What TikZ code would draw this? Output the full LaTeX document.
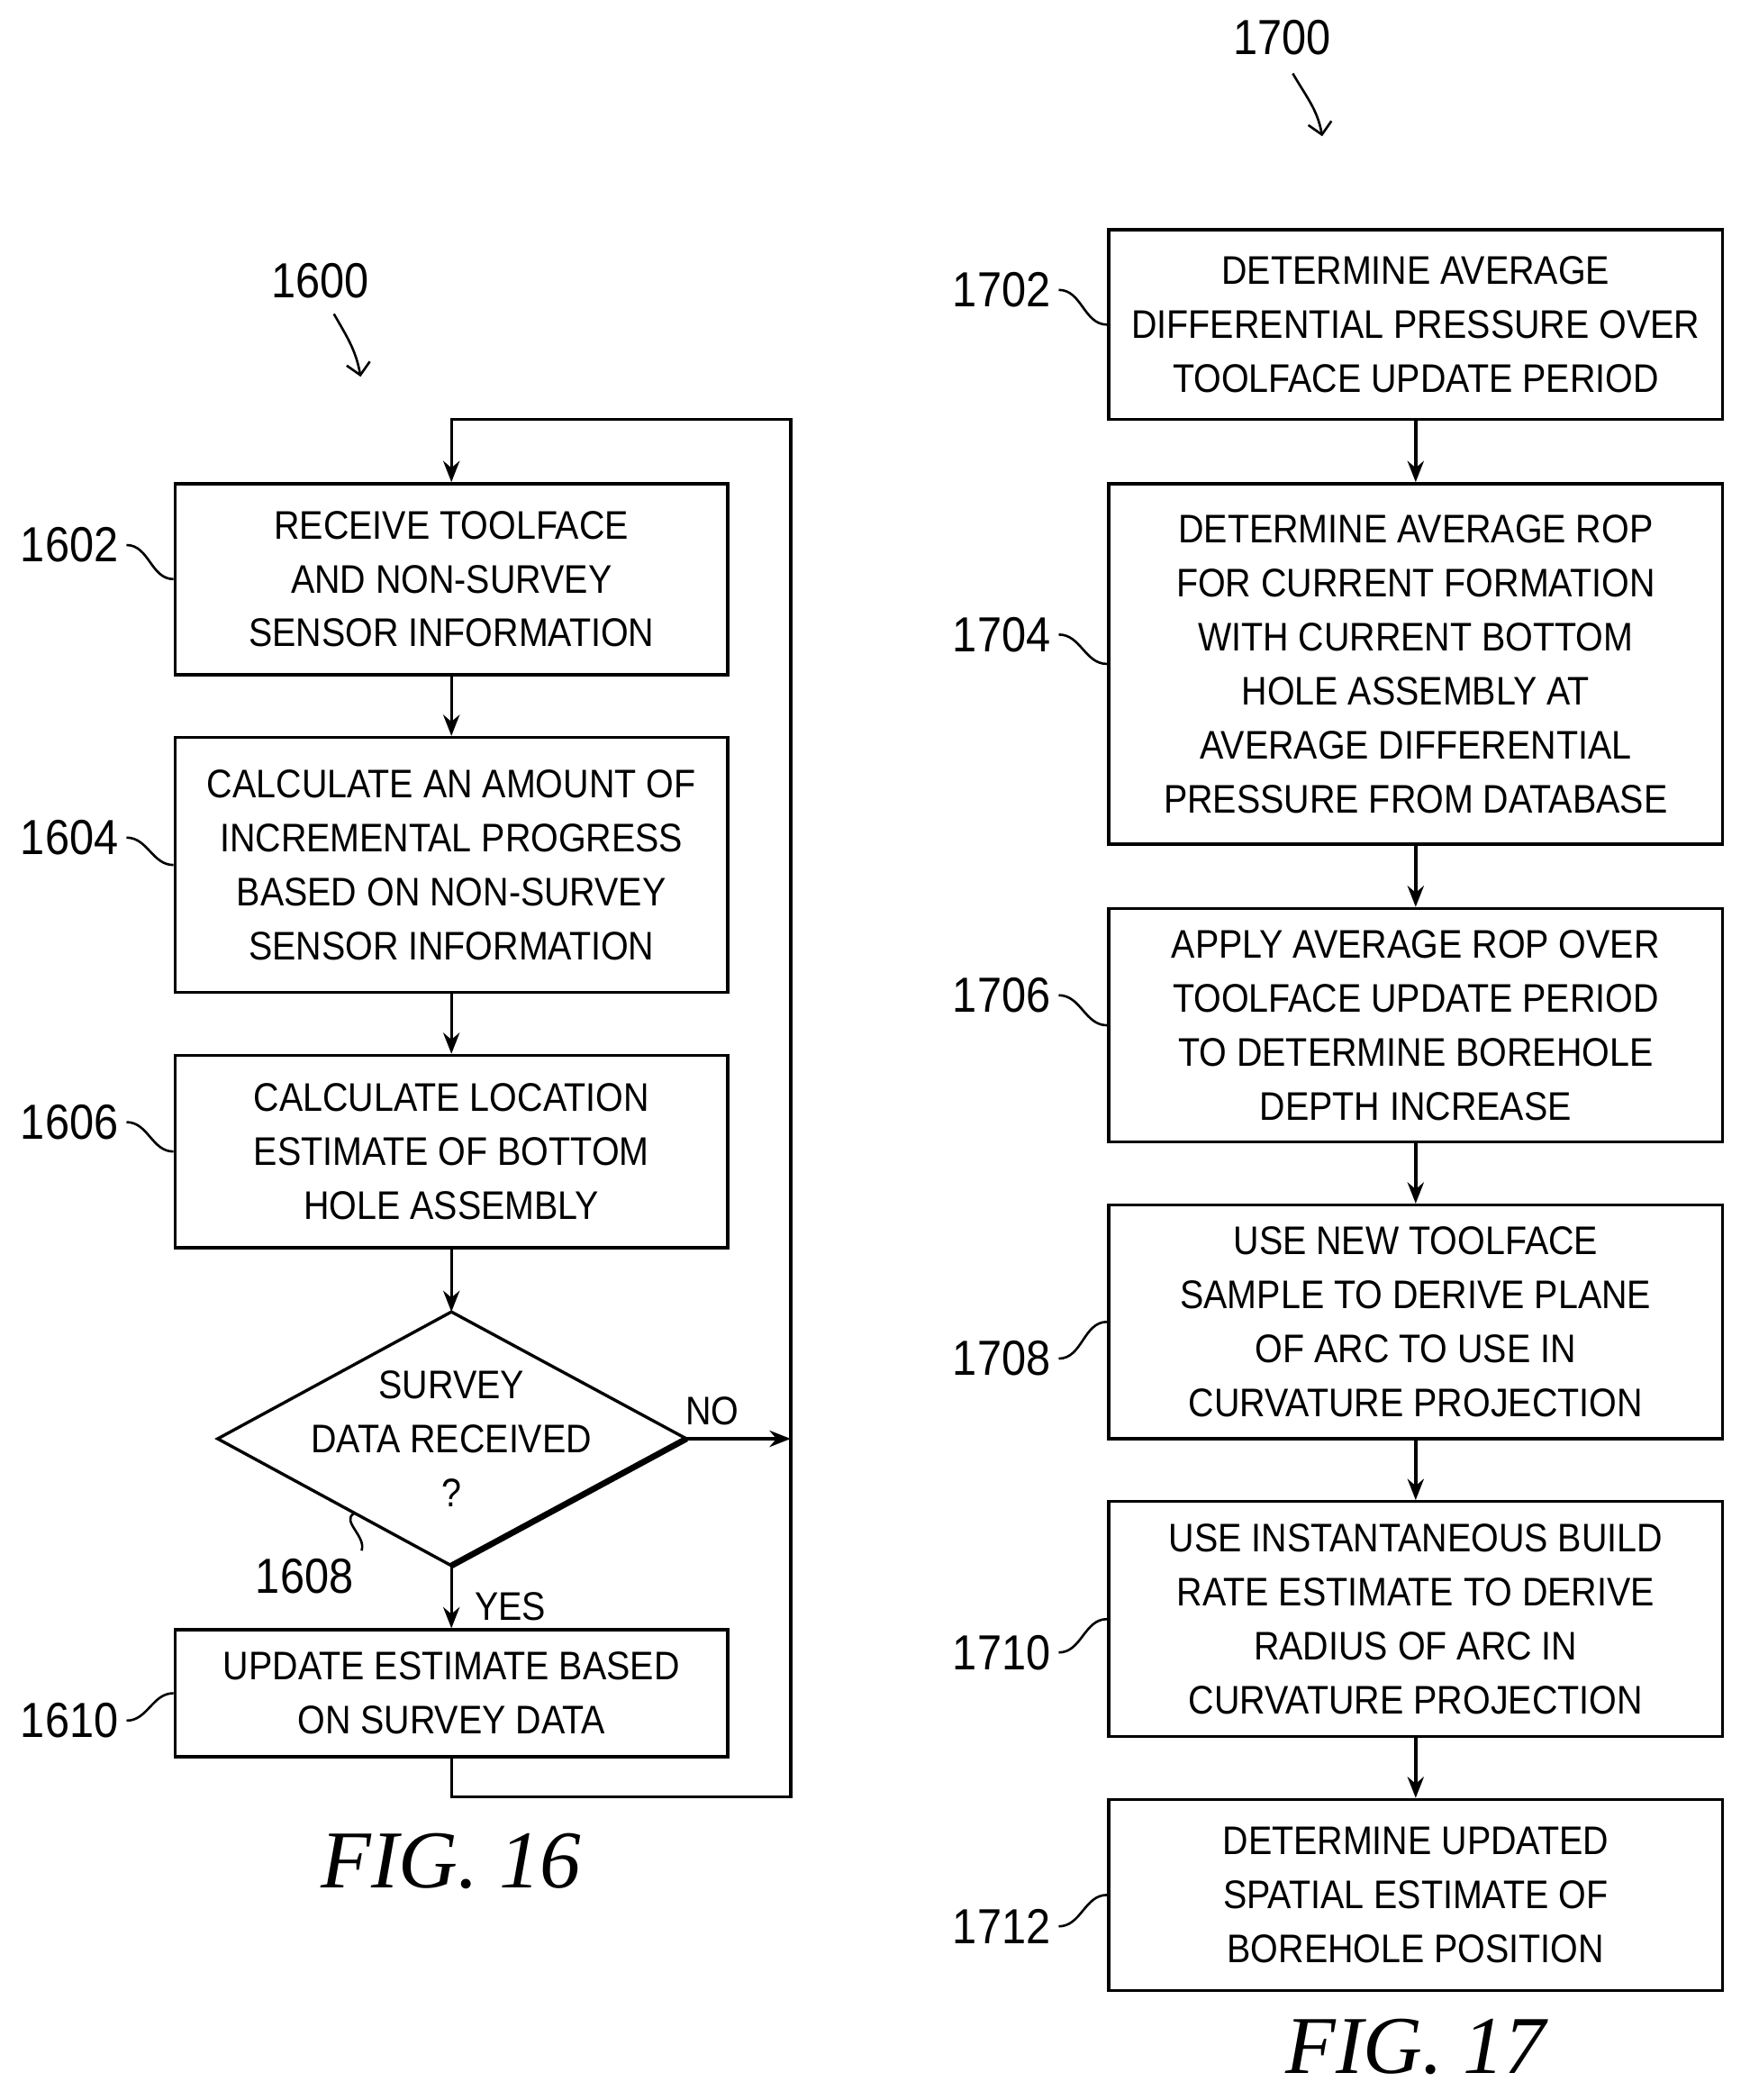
\documentclass[tikz,border=0pt]{standalone}
\usepackage{fontspec}
\setmainfont{Liberation Sans}[FakeStretch=0.89]
\newfontfamily\figfont{Liberation Serif}
\usetikzlibrary{arrows.meta}

\begin{document}
\begin{tikzpicture}[x=0.02cm,y=-0.02cm,
	step_box/.style={draw,line width=1.3pt,align=center,inner sep=0pt,font=\fontsize{17}{23}\selectfont},
	ref_lbl/.style={font=\fontsize{21}{23}\selectfont},
	branch_lbl/.style={font=\fontsize{17}{20}\selectfont},
	fig_lbl/.style={font=\figfont\itshape\fontsize{35}{37}\selectfont},
	flow/.style={line width=1.3pt,-{Stealth[length=9pt,width=7pt]}},
	tick/.style={line width=1pt}]
	\useasboundingbox (0,0) rectangle (1310,1572);
	% FIG. 16
	\node[step_box,minimum width=8.28cm,minimum height=2.86cm] (b1602) at (338,433.5) {RECEIVE TOOLFACE\\AND NON-SURVEY\\SENSOR INFORMATION};
	\node[step_box,minimum width=8.28cm,minimum height=3.82cm] (b1604) at (338,647.5) {CALCULATE AN AMOUNT OF\\INCREMENTAL PROGRESS\\BASED ON NON-SURVEY\\SENSOR INFORMATION};
	\node[step_box,minimum width=8.28cm,minimum height=2.88cm] (b1606) at (338,862) {CALCULATE LOCATION\\ESTIMATE OF BOTTOM\\HOLE ASSEMBLY};
	\coordinate (dTop) at (338,982);
	\coordinate (dBot) at (338,1172);
	\coordinate (dRight) at (514,1077);
	\coordinate (dLeft) at (163,1077);
	\draw[line width=1.3pt] (dTop) -- (dRight) -- (dBot) -- (dLeft) -- cycle;
	\draw[line width=2.6pt] (dRight) -- (dBot);
	\node[step_box,draw=none] (d1608) at (338,1077) {SURVEY\\DATA RECEIVED\\?};
	\node[step_box,minimum width=8.28cm,minimum height=1.9cm] (b1610) at (338,1267.5) {UPDATE ESTIMATE BASED\\ON SURVEY DATA};
	\coordinate (loopR) at (592,1077);
	\draw[flow] (b1602) -- (b1604);
	\draw[flow] (b1604) -- (b1606);
	\draw[flow] (b1606) -- (dTop);
	\draw[flow] (dBot) -- node[right,branch_lbl,xshift=6pt,yshift=-4pt] {YES} (b1610);
	\draw[flow] (dRight) -- node[above,branch_lbl,pos=0.25,yshift=2pt] {NO} (loopR);
	\draw[flow] (b1610.south) -- (338,1345) -- (592,1345) -- (592,314) -- (338,314) -- (b1602.north);
	\node[ref_lbl] (l1600) at (240,210) {1600};
	\draw[tick,-{Straight Barb[length=5pt]}] (250,235) to[out=-60,in=100] (270,282);
	\node[ref_lbl] (l1602) at (52,408) {1602};
	\draw[tick] (l1602.east) to[out=0,in=180] (b1602.west);
	\node[ref_lbl] (l1604) at (52,627) {1604};
	\draw[tick] (l1604.east) to[out=0,in=180] (b1604.west);
	\node[ref_lbl] (l1606) at (52,840) {1606};
	\draw[tick] (l1606.east) to[out=0,in=180] (b1606.west);
	\node[ref_lbl] (l1608) at (228,1180) {1608};
	\draw[tick] (l1608.north east) to[out=70,in=210] (265,1133);
	\node[ref_lbl] (l1610) at (52,1288) {1610};
	\draw[tick] (l1610.east) to[out=0,in=180] (b1610.west);
	\node[fig_lbl] (fig16) at (338,1393) {FIG. 16};
	% FIG. 17
	\node[step_box,minimum width=9.2cm,minimum height=2.84cm] (b1702) at (1060,243) {DETERMINE AVERAGE\\DIFFERENTIAL PRESSURE OVER\\TOOLFACE UPDATE PERIOD};
	\node[step_box,minimum width=9.2cm,minimum height=5.4cm] (b1704) at (1060,497) {DETERMINE AVERAGE ROP\\FOR CURRENT FORMATION\\WITH CURRENT BOTTOM\\HOLE ASSEMBLY AT\\AVERAGE DIFFERENTIAL\\PRESSURE FROM DATABASE};
	\node[step_box,minimum width=9.2cm,minimum height=3.5cm] (b1706) at (1060,767.5) {APPLY AVERAGE ROP OVER\\TOOLFACE UPDATE PERIOD\\TO DETERMINE BOREHOLE\\DEPTH INCREASE};
	\node[step_box,minimum width=9.2cm,minimum height=3.5cm] (b1708) at (1060,989.5) {USE NEW TOOLFACE\\SAMPLE TO DERIVE PLANE\\OF ARC TO USE IN\\CURVATURE PROJECTION};
	\node[step_box,minimum width=9.2cm,minimum height=3.52cm] (b1710) at (1060,1212) {USE INSTANTANEOUS BUILD\\RATE ESTIMATE TO DERIVE\\RADIUS OF ARC IN\\CURVATURE PROJECTION};
	\node[step_box,minimum width=9.2cm,minimum height=2.86cm] (b1712) at (1060,1418.5) {DETERMINE UPDATED\\SPATIAL ESTIMATE OF\\BOREHOLE POSITION};
	\draw[flow] (b1702) -- (b1704);
	\draw[flow] (b1704) -- (b1706);
	\draw[flow] (b1706) -- (b1708);
	\draw[flow] (b1708) -- (b1710);
	\draw[flow] (b1710) -- (b1712);
	\node[ref_lbl] (l1700) at (960,28) {1700};
	\draw[tick,-{Straight Barb[length=5pt]}] (968,55) to[out=-60,in=100] (990,102);
	\node[ref_lbl] (l1702) at (750,217) {1702};
	\draw[tick] (l1702.east) to[out=0,in=180] (b1702.west);
	\node[ref_lbl] (l1704) at (750,475) {1704};
	\draw[tick] (l1704.east) to[out=0,in=180] (b1704.west);
	\node[ref_lbl] (l1706) at (750,745) {1706};
	\draw[tick] (l1706.east) to[out=0,in=180] (b1706.west);
	\node[ref_lbl] (l1708) at (750,1017) {1708};
	\draw[tick] (l1708.east) to[out=0,in=180] (b1708.west);
	\node[ref_lbl] (l1710) at (750,1237) {1710};
	\draw[tick] (l1710.east) to[out=0,in=180] (b1710.west);
	\node[ref_lbl] (l1712) at (750,1442) {1712};
	\draw[tick] (l1712.east) to[out=0,in=180] (b1712.west);
	\node[fig_lbl] (fig17) at (1060,1532) {FIG. 17};
\end{tikzpicture}
\end{document}
